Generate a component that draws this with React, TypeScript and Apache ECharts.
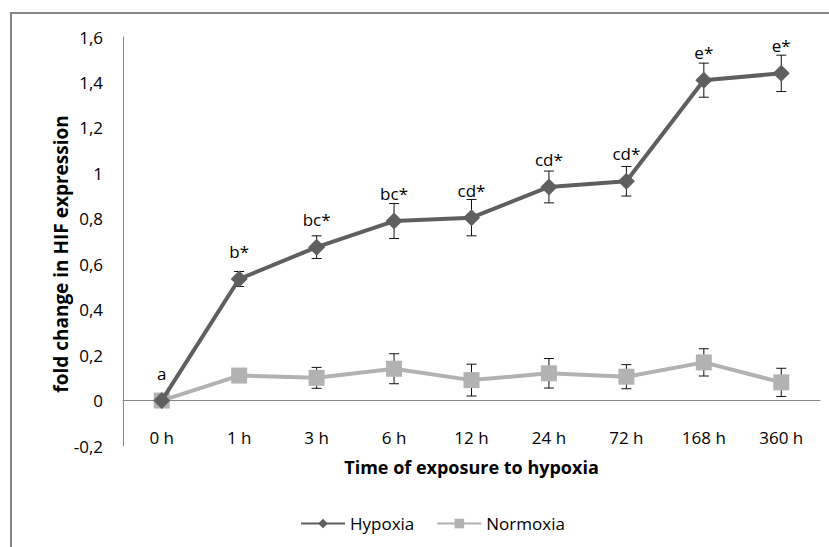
import React, { useEffect, useRef } from "react";
import * as echarts from "echarts";

const categories = ["0 h", "1 h", "3 h", "6 h", "12 h", "24 h", "72 h", "168 h", "360 h"];
const hypoxia = [0, 0.535, 0.675, 0.79, 0.805, 0.94, 0.965, 1.41, 1.44];
const hypoxiaErr = [0, 0.033, 0.05, 0.077, 0.08, 0.07, 0.065, 0.075, 0.08];
const normoxia = [0, 0.11, 0.1, 0.14, 0.09, 0.12, 0.105, 0.168, 0.08];
const normoxiaErr = [0, 0.015, 0.046, 0.066, 0.07, 0.065, 0.053, 0.06, 0.062];
const sigLabels = ["a", "b*", "bc*", "bc*", "cd*", "cd*", "cd*", "e*", "e*"];
const yTitle = "fold change in HIF expression";
const xTitle = "Time of exposure to hypoxia";

const FONT = "'Open Sans', 'Liberation Sans', sans-serif";

function fmt(v: number) {
  const r = Math.round(v * 10) / 10;
  return String(r).replace(".", ",");
}

function errSeries(name: string, vals: number[], errs: number[]) {
  return {
    type: "custom",
    name: name + "_err",
    z: 1,
    silent: true,
    data: vals.map((v, i) => [i, v, errs[i]]),
    renderItem: (params: any, api: any) => {
      const x = api.value(0);
      const y = api.value(1);
      const e = api.value(2);
      const top = api.coord([x, y + e]);
      const bot = api.coord([x, y - e]);
      const cw = 5;
      const children: any[] = [];
      if (e > 0) {
        const st = { stroke: "#111", lineWidth: 1 };
        children.push({ type: "line", shape: { x1: top[0], y1: top[1], x2: bot[0], y2: bot[1] }, style: st });
        children.push({ type: "line", shape: { x1: top[0] - cw, y1: top[1], x2: top[0] + cw, y2: top[1] }, style: st });
        children.push({ type: "line", shape: { x1: bot[0] - cw, y1: bot[1], x2: bot[0] + cw, y2: bot[1] }, style: st });
      }
      return { type: "group", children };
    },
  };
}

function labelSeries() {
  return {
    type: "custom",
    name: "labels",
    z: 6,
    silent: true,
    data: hypoxia.map((v, i) => [i, v]),
    renderItem: (params: any, api: any) => {
      const pt = api.coord([api.value(0), api.value(1)]);
      return {
        type: "text",
        style: {
          text: sigLabels[params.dataIndex],
          x: pt[0],
          y: pt[1] - 19,
          align: "center",
          verticalAlign: "bottom",
          fill: "#000",
          font: `17px ${FONT}`,
        },
      };
    },
  };
}

export default function App() {
  const ref = useRef<HTMLDivElement>(null);
  useEffect(() => {
    const chart = echarts.init(ref.current!, null, { renderer: "svg" });
    chart.setOption({
      animation: false,
      backgroundColor: "#fff",
      textStyle: { fontFamily: FONT },
      graphic: [
        {
          type: "rect",
          shape: { x: 11, y: 13, width: 900, height: 600 },
          style: { fill: "none", stroke: "#868686", lineWidth: 2 },
          z: 0,
        },
        {
          type: "text",
          x: 61,
          y: 254,
          rotation: Math.PI / 2,
          style: {
            text: yTitle,
            align: "center",
            verticalAlign: "middle",
            fill: "#000",
            font: `bold 19px ${FONT}`,
          },
        },
      ],
      grid: { left: 123, right: 9, top: 37, bottom: 101 },
      legend: {
        top: 510,
        left: 295,
        itemWidth: 44,
        itemHeight: 12,
        itemGap: 22,
        textStyle: { fontSize: 17, color: "#000", fontFamily: FONT },
        data: ["Hypoxia", "Normoxia"],
      },
      xAxis: {
        type: "category",
        data: categories,
        boundaryGap: true,
        offset: -45.4,
        name: xTitle,
        nameLocation: "middle",
        nameGap: 57,
        nameTextStyle: { fontSize: 18, fontWeight: "bold", color: "#000" },
        axisLine: { onZero: false, lineStyle: { color: "#868686", width: 1 } },
        axisTick: { show: false },
        axisLabel: { fontSize: 17, color: "#000", margin: 28 },
        splitLine: { show: false },
      },
      yAxis: {
        type: "value",
        min: -0.2,
        max: 1.6,
        interval: 0.2,
        axisLine: { show: true, lineStyle: { color: "#868686", width: 1 } },
        axisTick: { show: false },
        splitLine: { show: false },
        axisLabel: {
          fontSize: 17,
          color: "#000",
          margin: 20,
          formatter: (v: number) => fmt(v),
        },
      },
      series: [
        {
          name: "Normoxia",
          type: "line",
          data: normoxia,
          symbol: "rect",
          symbolSize: 16,
          z: 2,
          lineStyle: { color: "#b2b2b2", width: 4 },
          itemStyle: { color: "#b2b2b2" },
        },
        {
          name: "Hypoxia",
          type: "line",
          data: hypoxia,
          symbol: "diamond",
          symbolSize: 17,
          z: 3,
          lineStyle: { color: "#5f5f5f", width: 4 },
          itemStyle: { color: "#5f5f5f" },
        },
        errSeries("Normoxia", normoxia, normoxiaErr),
        errSeries("Hypoxia", hypoxia, hypoxiaErr),
        labelSeries(),
      ],
    });
    return () => chart.dispose();
  }, []);
  return (
    <div
      ref={ref}
      style={{ position: "fixed", left: 0, top: 0, width: 829, height: 547 }}
    />
  );
}
